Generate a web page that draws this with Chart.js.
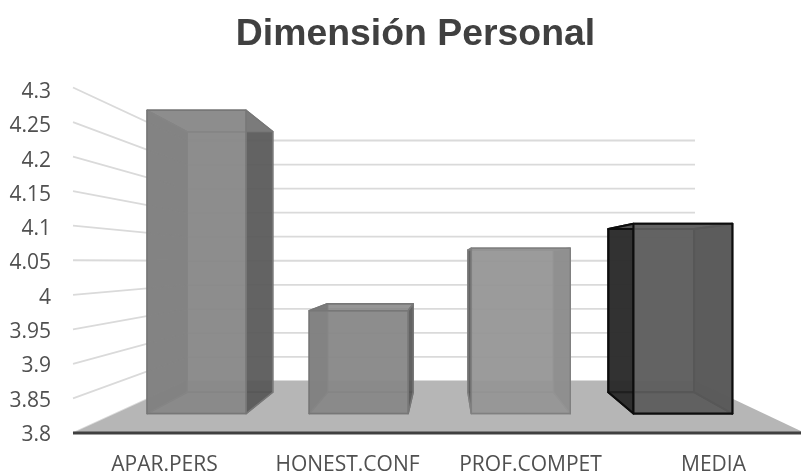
<!DOCTYPE html>
<html>
<head>
<meta charset="utf-8">
<title>Dimensión Personal</title>
<script src="https://cdn.jsdelivr.net/npm/chart.js@4"></script>
<style>
  html, body { margin: 0; padding: 0; background: #fff; overflow: hidden; }
</style>
</head>
<body>
<canvas id="chart" width="805" height="471"></canvas>
<script>
// Datos
const categories = ['APAR.PERS', 'HONEST.CONF', 'PROF.COMPET', 'MEDIA'];
const values = [4.295, 3.968, 4.07, 4.11];
const yTicks = [3.8, 3.85, 3.9, 3.95, 4, 4.05, 4.1, 4.15, 4.2, 4.25, 4.3];

// Perspectiva: cuanto se encoge el plano del fondo respecto al frontal
const backInset = { left: 114, right: 110, bottom: 52, height: 105 };
const barDepth = { front: 0.373, back: 0.784, backX: 0.76 };
// Las etiquetas quedan algo por debajo de las lineas
const planeLift = 2;
const planeStretch = 2.5;

const normalBar = { back: 'rgba(130,130,130,0.6)', side: 'rgba(80,80,80,0.8)', front: 'rgba(135,135,135,0.85)', edge: '#777777', width: 1.5 };
const lightBar = { back: 'rgba(140,140,140,0.6)', side: 'rgba(80,80,80,0.8)', front: 'rgba(150,150,150,0.85)', edge: '#808080', width: 1.5 };
const mediaBar = { back: 'rgba(90,90,90,0.7)', side: 'rgba(35,35,35,0.85)', front: 'rgba(95,95,95,0.9)', edge: '#0d0d0d', width: 2 };
const barStyles = [normalBar, normalBar, lightBar, mediaBar];

// Proyecta un punto del plano frontal a la profundidad d (0 frente, 1 fondo)
function project(chart, x, value, d, dx = d) {
    const area = chart.chartArea;
    const scale = chart.scales.y;
    const bottom = area.bottom - planeLift;
    const height = area.bottom - area.top + planeStretch;
    const t = (scale.getPixelForValue(3.8) - scale.getPixelForValue(value)) / (area.bottom - area.top);
    const fx = (x - area.left) / (area.right - area.left);
    const l = area.left + backInset.left * dx;
    const r = area.right - backInset.right * dx;
    return {
        x: l + fx * (r - l),
        y: bottom - backInset.bottom * d - t * (height - backInset.height * d)
    };
}

function face(ctx, pts, fill, edge, width) {
    ctx.beginPath();
    pts.forEach((p, i) => i ? ctx.lineTo(p.x, p.y) : ctx.moveTo(p.x, p.y));
    ctx.closePath();
    ctx.fillStyle = fill;
    ctx.fill();
    ctx.strokeStyle = edge;
    ctx.lineWidth = width;
    ctx.stroke();
}

const scene3d = {
    id: 'scene3d',
    afterLayout(chart) {
        // el titulo va un poco a la derecha del centro
        chart.titleBlock.left += 26;
    },
    beforeDatasetsDraw(chart) {
        const ctx = chart.ctx;
        const area = chart.chartArea;
        ctx.save();
        yTicks.forEach(v => {
            const a = project(chart, area.left, v, 0);
            const b = project(chart, area.left, v, 1);
            const c = project(chart, area.right, v, 1);
            ctx.beginPath();
            ctx.moveTo(a.x, a.y);
            ctx.lineTo(b.x, b.y);
            ctx.lineTo(c.x, c.y);
            ctx.strokeStyle = '#dadada';
            ctx.lineWidth = 1.8;
            ctx.stroke();
        });
        const floor = [
            project(chart, area.left, 3.8, 0),
            project(chart, area.left, 3.8, 1),
            project(chart, area.right, 3.8, 1),
            project(chart, area.right, 3.8, 0)
        ];
        ctx.beginPath();
        floor.forEach((p, i) => i ? ctx.lineTo(p.x, p.y) : ctx.moveTo(p.x, p.y));
        ctx.closePath();
        ctx.fillStyle = '#b6b6b6';
        ctx.fill();
        ctx.beginPath();
        ctx.moveTo(floor[0].x, floor[0].y);
        ctx.lineTo(floor[3].x, floor[3].y);
        ctx.strokeStyle = '#404040';
        ctx.lineWidth = 3;
        ctx.stroke();
        ctx.restore();
    },
    afterDatasetsDraw(chart) {
        const ctx = chart.ctx;
        ctx.save();
        ctx.lineJoin = 'round';
        chart.getDatasetMeta(0).data.forEach((bar, i) => {
            const st = barStyles[i];
            const x0 = bar.x - bar.width / 2;
            const x1 = bar.x + bar.width / 2;
            const v = values[i];
            const f = barDepth.front;
            const k = barDepth.back;
            const kx = barDepth.backX;
            const nearP = (x, val) => project(chart, x, val, f);
            const farP = (x, val) => project(chart, x, val, k, kx);
            face(ctx, [farP(x0, 3.8), farP(x1, 3.8), farP(x1, v), farP(x0, v)], st.back, st.edge, st.width);
            face(ctx, [nearP(x0, 3.8), nearP(x1, 3.8), farP(x1, 3.8), farP(x0, 3.8)], st.back, st.edge, st.width);
            face(ctx, [nearP(x0, 3.8), nearP(x0, v), farP(x0, v), farP(x0, 3.8)], st.side, st.edge, st.width);
            face(ctx, [nearP(x1, 3.8), nearP(x1, v), farP(x1, v), farP(x1, 3.8)], st.side, st.edge, st.width);
            face(ctx, [nearP(x0, v), nearP(x1, v), farP(x1, v), farP(x0, v)], st.back, st.edge, st.width);
            face(ctx, [nearP(x0, 3.8), nearP(x1, 3.8), nearP(x1, v), nearP(x0, v)], st.front, st.edge, st.width);
        });
        ctx.restore();
    }
};

new Chart(document.getElementById('chart'), {
    type: 'bar',
    plugins: [scene3d],
    data: {
        labels: categories,
        datasets: [{
            label: 'Dimensión Personal',
            data: values,
            backgroundColor: 'rgba(0,0,0,0)',
            categoryPercentage: 1,
            barPercentage: 0.61
        }]
    },
    options: {
        responsive: false,
        animation: false,
        layout: { padding: 0 },
        plugins: {
            legend: { display: false },
            tooltip: { enabled: false },
            title: {
                display: true,
                text: 'Dimensión Personal',
                color: '#404040',
                font: { family: '"Liberation Sans"', size: 37.4, weight: 'bold' },
                padding: { top: 12, bottom: 35.1 }
            }
        },
        scales: {
            x: {
                grid: { display: false },
                border: { display: false },
                ticks: { color: '#505050', font: { family: '"Open Sans"', size: 21 }, padding: 9, maxRotation: 0 },
                afterFit: s => { s.height = 36; }
            },
            y: {
                min: 3.8,
                max: 4.3,
                grid: { display: false },
                border: { display: false },
                afterBuildTicks: s => { s.ticks = yTicks.map(value => ({ value })); },
                ticks: { color: '#505050', font: { family: '"Open Sans"', size: 21 }, padding: 14, callback: v => String(v) },
                afterFit: s => { s.width = 73; }
            }
        }
    }
});
</script>
</body>
</html>
